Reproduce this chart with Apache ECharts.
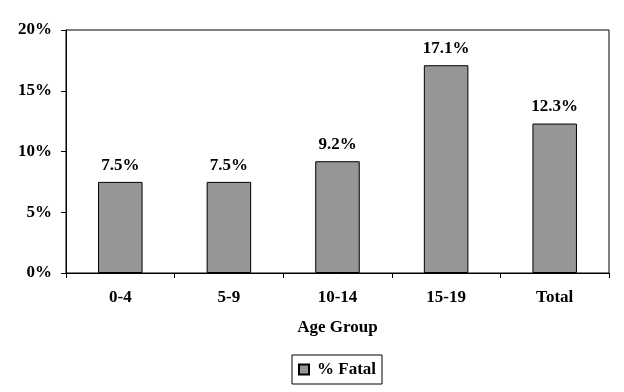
<!DOCTYPE html>
<html>
<head>
<meta charset="utf-8">
<script src="https://cdn.jsdelivr.net/npm/echarts@6/dist/echarts.min.js"></script>
<style>html,body{margin:0;padding:0;background:#fff;}#c{width:624px;height:392px;}</style>
</head>
<body>
<div id="c"></div>
<script>
const categories = ['0-4', '5-9', '10-14', '15-19', 'Total'];
const fatalPct = [7.5, 7.5, 9.2, 17.1, 12.3];
const yTicks = [0, 5, 10, 15, 20];
const seriesName = '% Fatal';
const xTitle = 'Age Group';

const font = '"Liberation Serif", "Times New Roman", serif';
const fs = 17;
const chart = echarts.init(document.getElementById('c'), null, {renderer: 'canvas'});
chart.setOption({
  backgroundColor: '#fff',
  animation: false,
  grid: {left: 66, right: 15, top: 30, bottom: 119, show: true, borderColor: '#000', borderWidth: 1, backgroundColor: 'transparent'},
  legend: {
    data: [seriesName],
    left: 292, top: 355,
    borderColor: '#000', borderWidth: 1,
    padding: [6, 6, 6, 6],
    icon: 'rect', itemWidth: 10, itemHeight: 10,
    textStyle: {fontFamily: font, fontWeight: 'bold', fontSize: fs, color: '#000', padding: [0, 0, 0, 3]}
  },
  xAxis: {
    type: 'category',
    data: categories,
    name: xTitle,
    nameLocation: 'middle',
    nameGap: 46,
    nameTextStyle: {fontFamily: font, fontWeight: 'bold', fontSize: fs, color: '#000', verticalAlign: 'top'},
    axisLine: {lineStyle: {color: '#000', width: 1}},
    axisTick: {show: true, length: 5, inside: false, alignWithLabel: false, lineStyle: {color: '#000'}},
    axisLabel: {fontFamily: font, fontWeight: 'bold', fontSize: fs, color: '#000', margin: 16}
  },
  yAxis: {
    type: 'value',
    min: yTicks[0], max: yTicks[yTicks.length - 1], interval: 5,
    axisLine: {show: true, lineStyle: {color: '#000', width: 1}},
    axisTick: {show: true, length: 5, lineStyle: {color: '#000'}},
    splitLine: {show: false},
    axisLabel: {fontFamily: font, fontWeight: 'bold', fontSize: fs, color: '#000', margin: 14, formatter: '{value}%'}
  },
  series: [{
    name: seriesName,
    type: 'bar',
    data: fatalPct,
    barWidth: '41%',
    itemStyle: {color: '#969696', borderColor: '#000', borderWidth: 1},
    label: {show: true, position: 'top', distance: 8, fontFamily: font, fontWeight: 'bold', fontSize: fs, color: '#000',
      formatter: p => p.value.toFixed(1) + '%'}
  }]
});
</script>
</body>
</html>
